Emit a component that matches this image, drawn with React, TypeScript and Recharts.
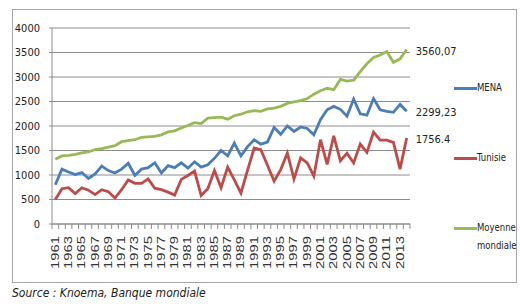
import { LineChart, Line, XAxis, YAxis, CartesianGrid } from 'recharts';

const years = [
  1961, 1962, 1963, 1964, 1965, 1966, 1967, 1968, 1969, 1970, 1971, 1972, 1973, 1974,
  1975, 1976, 1977, 1978, 1979, 1980, 1981, 1982, 1983, 1984, 1985, 1986, 1987, 1988,
  1989, 1990, 1991, 1992, 1993, 1994, 1995, 1996, 1997, 1998, 1999, 2000, 2001, 2002,
  2003, 2004, 2005, 2006, 2007, 2008, 2009, 2010, 2011, 2012, 2013, 2014,
];

const mena = [
  800, 1120, 1060, 1010, 1050, 930, 1020, 1180, 1090, 1040, 1120, 1240, 990, 1120,
  1150, 1250, 1040, 1190, 1150, 1250, 1140, 1270, 1160, 1210, 1340, 1500, 1390, 1650,
  1390, 1580, 1720, 1630, 1670, 1970, 1830, 2000, 1890, 1980, 1950, 1820, 2130, 2330,
  2400, 2340, 2200, 2550, 2250, 2220, 2560, 2330, 2300, 2280, 2440, 2299.23,
];

const tunisie = [
  500, 720, 740, 620, 740, 690, 600, 700, 660, 530, 700, 900, 830, 830,
  920, 730, 700, 650, 590, 910, 990, 1080, 580, 720, 1090, 740, 1160, 900,
  630, 1100, 1550, 1515, 1200, 875, 1110, 1450, 915, 1350, 1245, 975, 1720, 1215,
  1800, 1290, 1445, 1245, 1630, 1460, 1877, 1710, 1710, 1665, 1120, 1756.4,
];

const moyenne = [
  1320, 1390, 1400, 1420, 1450, 1470, 1520, 1540, 1570, 1600, 1680, 1700, 1720, 1770,
  1780, 1790, 1820, 1880, 1900, 1960, 2010, 2070, 2050, 2160, 2170, 2180, 2140, 2210,
  2240, 2290, 2315, 2300, 2350, 2365, 2400, 2460, 2490, 2520, 2560, 2650, 2720, 2770,
  2740, 2950, 2915, 2935, 3110, 3270, 3400, 3450, 3520, 3300, 3370, 3560.07,
];

const yTicks = [0, 500, 1000, 1500, 2000, 2500, 3000, 3500, 4000];

const series = [
  { key: 'mena', name: ['MENA'], color: '#4a7ebb', end: '2299,23' },
  { key: 'tunisie', name: ['Tunisie'], color: '#be4b48', end: '1756.4' },
  { key: 'moyenne', name: ['Moyenne', 'mondiale'], color: '#98b954', end: '3560,07' },
];

const data = years.map((year, i) => ({
  year,
  mena: mena[i],
  tunisie: tunisie[i],
  moyenne: moyenne[i],
}));

const narrow = '"DejaVu Sans Condensed", "Liberation Sans Narrow", "Liberation Sans", sans-serif';
const halfStep = 358 / years.length / 2;

const YearTick = (props: any) => {
  const { x, y, payload } = props;
  const year = Number(payload.value);
  const showLabel = (year - years[0]) % 2 === 0;
  return (
    <g>
      <line x1={x - halfStep} x2={x - halfStep} y1={y} y2={y + 5} stroke="#8c8c8c" />
      {year === years[years.length - 1] && (
        <line x1={x + halfStep} x2={x + halfStep} y1={y} y2={y + 5} stroke="#8c8c8c" />
      )}
      {showLabel && (
        <text
          transform={`translate(${x + 3.5},${y + 12}) rotate(-90)`}
          textAnchor="end"
          fontSize={10}
          fontFamily="Liberation Sans, Arial, sans-serif"
          fill="#333"
          textLength={33}
          lengthAdjust="spacingAndGlyphs"
        >
          {payload.value}
        </text>
      )}
    </g>
  );
};

const endLabel = (text: string) => (props: any) => {
  const { x, y, index } = props;
  if (index !== years.length - 1) return null;
  return (
    <text x={x + 9} y={y} dy={5} fontSize={11} fontFamily={narrow} fill="#222">
      {text}
    </text>
  );
};

export default function App() {
  return (
    <div style={{ position: 'absolute', left: 0, top: 0, width: 520, height: 304, background: '#fff' }}>
      <div
        style={{
          position: 'absolute',
          left: 12,
          top: 9,
          width: 505,
          height: 274,
          border: '1px solid #a6a6a6',
          boxSizing: 'border-box',
        }}
      />
      <div style={{ position: 'absolute', left: 0, top: 0 }}>
        <LineChart width={520} height={304} data={data} margin={{ top: 28, right: 110, left: 12, bottom: 30 }}>
          <CartesianGrid vertical={false} stroke="#8c8c8c" strokeWidth={1} />
          <XAxis
            dataKey="year"
            interval={0}
            height={50}
            padding={{ left: halfStep, right: halfStep }}
            tickLine={false}
            tickSize={0}
            tickMargin={0}
            axisLine={{ stroke: '#8c8c8c' }}
            tick={<YearTick />}
          />
          <YAxis
            domain={[0, 4000]}
            ticks={yTicks}
            width={40}
            tickSize={3}
            tickMargin={9}
            axisLine={{ stroke: '#8c8c8c' }}
            tickLine={{ stroke: '#8c8c8c' }}
            tick={{ fontSize: 11, fontFamily: narrow, fill: '#222' }}
          />
          {series.map((s) => (
            <Line
              key={s.key}
              type="linear"
              dataKey={s.key}
              name={s.name.join(' ')}
              stroke={s.color}
              strokeWidth={2.8}
              dot={false}
              activeDot={false}
              label={endLabel(s.end)}
              isAnimationActive={false}
            />
          ))}
        </LineChart>
      </div>
      {series.map((s, i) => (
        <div
          key={s.key}
          style={{ position: 'absolute', left: 454, top: 79 + i * 70, display: 'flex', alignItems: 'flex-start' }}
        >
          <div style={{ width: 23, height: 3, background: s.color, marginTop: 8 }} />
          <div
            style={{
              fontFamily: narrow,
              fontSize: 11,
              color: '#222',
              lineHeight: '18px',
              transform: 'scaleX(0.86)',
              transformOrigin: 'left top',
            }}
          >
            {s.name.map((line, j) => (
              <div key={line} style={{ textAlign: j > 0 ? 'right' : 'left' }}>
                {line}
              </div>
            ))}
          </div>
        </div>
      ))}
      <div
        style={{
          position: 'absolute',
          left: 12,
          top: 286,
          fontFamily: narrow,
          fontStyle: 'italic',
          fontSize: 12,
          color: '#222',
          whiteSpace: 'nowrap',
        }}
      >
        Source : Knoema, Banque mondiale
      </div>
    </div>
  );
}
